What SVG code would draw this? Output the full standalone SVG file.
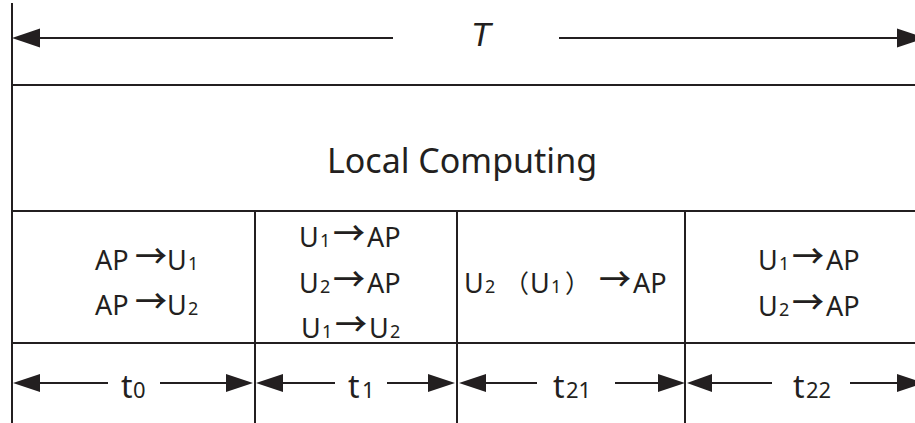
<svg xmlns="http://www.w3.org/2000/svg" width="915" height="423" viewBox="0 0 915 423">
<style>
.ln{stroke:#231f20;stroke-width:2;fill:none}
.al{stroke:#231f20;stroke-width:1.8;fill:none}
.hd{fill:#231f20;stroke:none}
.tx{font-family:"Noto Sans","Open Sans",sans-serif;fill:#231f20;font-size:27px}
.sb{font-size:18px}
.ar{font-family:"Noto Sans CJK SC","DejaVu Sans",sans-serif;font-size:32px;font-weight:500}
.cj{font-family:"Noto Sans CJK SC",sans-serif;font-size:25px}
.tl{font-family:"Noto Sans","Open Sans",sans-serif;fill:#231f20;font-size:32px}
.ts{font-size:22px}
</style>
<rect width="915" height="423" fill="#fff"/>
<g id="frame">
<line class="ln" x1="12" y1="3" x2="12" y2="423"/>
<line class="ln" x1="12" y1="85" x2="915" y2="85"/>
<line class="ln" x1="12" y1="211" x2="915" y2="211"/>
<line class="ln" x1="12" y1="343" x2="915" y2="343"/>
<line class="ln" x1="255" y1="211" x2="255" y2="423"/>
<line class="ln" x1="457" y1="211" x2="457" y2="423"/>
<line class="ln" x1="685" y1="211" x2="685" y2="423"/>
</g>
<g id="connectors">
<line class="al" x1="38" y1="38" x2="393" y2="38"/>
<polygon class="hd" points="12,38 40,28.5 40,47.5"/>
<line class="al" x1="559" y1="38" x2="900" y2="38"/>
<polygon class="hd" points="925,38 897,28.5 897,47.5"/>
<line class="al" x1="38" y1="383" x2="108" y2="383"/>
<polygon class="hd" points="13,383 40,374 40,392"/>
<line class="al" x1="160" y1="383" x2="228" y2="383"/>
<polygon class="hd" points="253,383 226,374 226,392"/>
<line class="al" x1="281" y1="383" x2="335" y2="383"/>
<polygon class="hd" points="256,383 283,374 283,392"/>
<line class="al" x1="387" y1="383" x2="430" y2="383"/>
<polygon class="hd" points="455,383 428,374 428,392"/>
<line class="al" x1="484" y1="383" x2="537" y2="383"/>
<polygon class="hd" points="459,383 486,374 486,392"/>
<line class="al" x1="615" y1="383" x2="660" y2="383"/>
<polygon class="hd" points="685,383 658,374 658,392"/>
<line class="al" x1="710" y1="383" x2="772" y2="383"/>
<polygon class="hd" points="687,383 712,374 712,392"/>
<line class="al" x1="850" y1="383" x2="899" y2="383"/>
<polygon class="hd" points="924,383 897,374 897,392"/>
</g>
<g id="title-T">
<text x="471" y="46" font-family="Liberation Sans, Arial, sans-serif" font-style="italic" font-size="33" fill="#231f20">T</text>
</g>
<g id="local-computing">
<text class="tx" x="462" y="173" text-anchor="middle" style="font-size:34px">Local Computing</text>
</g>
<g id="cell-t0">
<text class="tx" y="270"><tspan x="95">AP</tspan><tspan class="ar" x="135" y="268">→</tspan><tspan x="167" y="270">U</tspan><tspan class="sb" x="188">1</tspan></text>
<text class="tx" y="315"><tspan x="95">AP</tspan><tspan class="ar" x="135" y="313">→</tspan><tspan x="167" y="315">U</tspan><tspan class="sb" x="188">2</tspan></text>
</g>
<g id="cell-t1">
<text class="tx" y="247"><tspan x="299">U</tspan><tspan class="sb" x="320">1</tspan><tspan class="ar" x="333" y="245">→</tspan><tspan x="367" y="247">AP</tspan></text>
<text class="tx" y="293"><tspan x="299">U</tspan><tspan class="sb" x="320">2</tspan><tspan class="ar" x="333" y="291">→</tspan><tspan x="367" y="293">AP</tspan></text>
<text class="tx" y="338"><tspan x="301">U</tspan><tspan class="sb" x="322">1</tspan><tspan class="ar" x="335" y="336">→</tspan><tspan x="369" y="338">U</tspan><tspan class="sb" x="390">2</tspan></text>
</g>
<g id="cell-t21">
<text class="tx" y="293"><tspan x="464">U</tspan><tspan class="sb" x="485">2</tspan><tspan class="cj" x="504">（</tspan><tspan x="530">U</tspan><tspan class="sb" x="551">1</tspan><tspan class="cj" x="565">）</tspan><tspan class="ar" x="599" y="291">→</tspan><tspan x="633" y="293">AP</tspan></text>
</g>
<g id="cell-t22">
<text class="tx" y="270"><tspan x="758">U</tspan><tspan class="sb" x="779">1</tspan><tspan class="ar" x="792" y="268">→</tspan><tspan x="826" y="270">AP</tspan></text>
<text class="tx" y="316"><tspan x="758">U</tspan><tspan class="sb" x="779">2</tspan><tspan class="ar" x="792" y="314">→</tspan><tspan x="826" y="316">AP</tspan></text>
</g>
<g id="label-t0"><text class="tl" y="398"><tspan x="121">t</tspan><tspan class="ts" x="133">0</tspan></text></g>
<g id="label-t1"><text class="tl" y="398"><tspan x="348">t</tspan><tspan class="ts" x="362">1</tspan></text></g>
<g id="label-t21"><text class="tl" y="398"><tspan x="553">t</tspan><tspan class="ts" x="566">21</tspan></text></g>
<g id="label-t22"><text class="tl" y="398"><tspan x="793">t</tspan><tspan class="ts" x="806">22</tspan></text></g>
</svg>
